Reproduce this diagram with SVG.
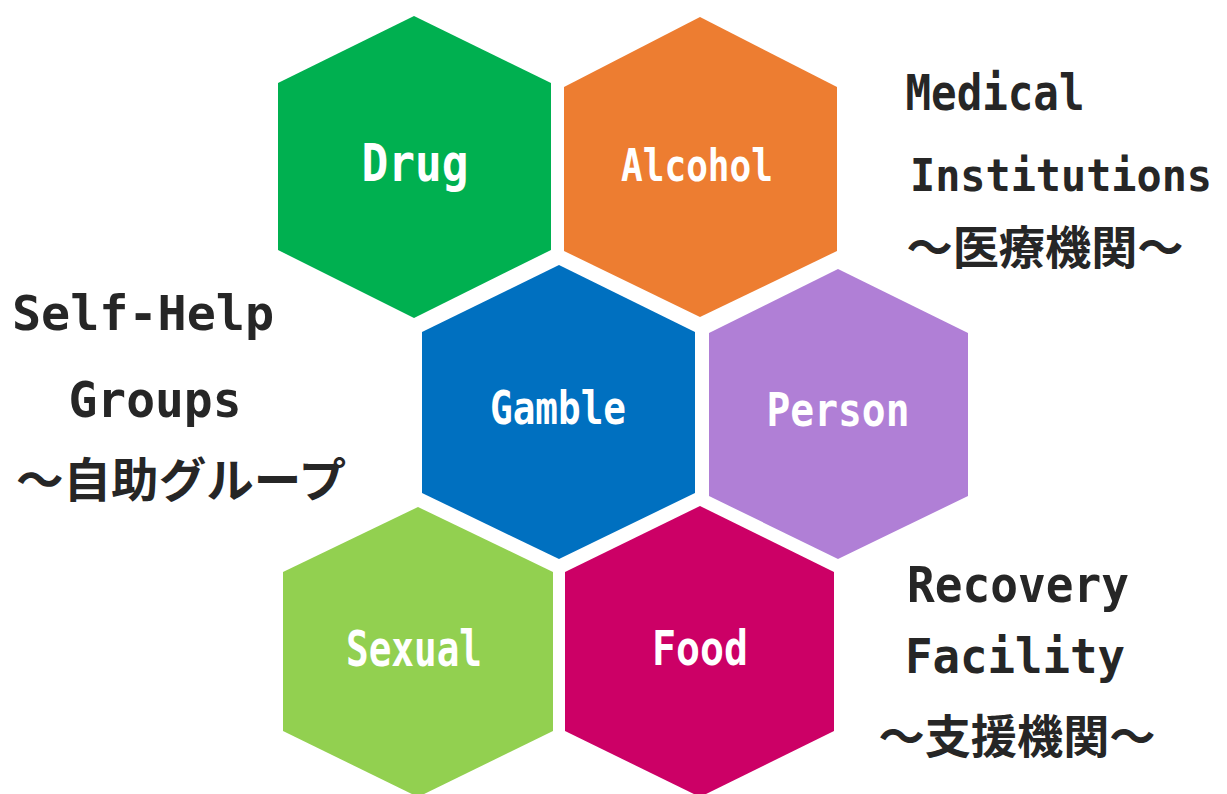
<svg xmlns="http://www.w3.org/2000/svg" width="1227" height="794" viewBox="0 0 1227 794">
<style>
.lbl{font-family:"DejaVu Sans Mono","Liberation Mono",monospace;font-weight:bold;fill:#ffffff;text-anchor:middle}
.side{font-family:"DejaVu Sans Mono","Liberation Mono",monospace;font-weight:bold;fill:#262626;text-anchor:middle}
.jp{font-family:"Noto Sans CJK JP","Noto Sans",sans-serif;font-weight:bold;fill:#262626;text-anchor:middle}
</style>
<rect width="1227" height="794" fill="#ffffff"/>
<g id="drug">
<polygon points="414,16 551,83 551,250 414,318 278,250 278,83" fill="#00B050"/>
<text class="lbl" x="415" y="181" font-size="51" textLength="107" lengthAdjust="spacingAndGlyphs">Drug</text>
</g>
<g id="alcohol">
<polygon points="700,17 837,87 837,251 700,317 564,251 564,87" fill="#ED7D31"/>
<text class="lbl" x="697" y="181" font-size="45" textLength="152" lengthAdjust="spacingAndGlyphs">Alcohol</text>
</g>
<g id="gamble">
<polygon points="559,265 695,332 695,493 559,559 422,493 422,332" fill="#0070C0"/>
<text class="lbl" x="558" y="424" font-size="47" textLength="136" lengthAdjust="spacingAndGlyphs">Gamble</text>
</g>
<g id="person">
<polygon points="838,269 968,333 968,496 838,559 709,496 709,333" fill="#B07FD6"/>
<text class="lbl" x="838" y="426" font-size="47" textLength="143" lengthAdjust="spacingAndGlyphs">Person</text>
</g>
<g id="sexual">
<polygon points="418,507 553,572 553,731 418,797 283,731 283,572" fill="#92D050"/>
<text class="lbl" x="414" y="666" font-size="49" textLength="136" lengthAdjust="spacingAndGlyphs">Sexual</text>
</g>
<g id="food">
<polygon points="700,506 834,572 834,731 700,797 565,731 565,572" fill="#CC0066"/>
<text class="lbl" x="700" y="665" font-size="48" textLength="96" lengthAdjust="spacingAndGlyphs">Food</text>
</g>
<g id="self-help">
<text class="side" x="143" y="330" font-size="48" textLength="262" lengthAdjust="spacingAndGlyphs">Self-Help</text>
<text class="side" x="155" y="417" font-size="50" textLength="173" lengthAdjust="spacingAndGlyphs">Groups</text>
<text class="jp" x="181" y="497" font-size="47" textLength="330" lengthAdjust="spacingAndGlyphs">～自助グループ</text>
</g>
<g id="medical">
<text class="side" x="995" y="110" font-size="50" textLength="179" lengthAdjust="spacingAndGlyphs">Medical</text>
<text class="side" x="1061" y="191" font-size="44" textLength="302" lengthAdjust="spacingAndGlyphs">Institutions</text>
<text class="jp" x="1045" y="264" font-size="46" textLength="277" lengthAdjust="spacingAndGlyphs">～医療機関～</text>
</g>
<g id="recovery">
<text class="side" x="1018" y="602" font-size="50" textLength="222" lengthAdjust="spacingAndGlyphs">Recovery</text>
<text class="side" x="1015" y="673" font-size="48" textLength="220" lengthAdjust="spacingAndGlyphs">Facility</text>
<text class="jp" x="1017" y="753" font-size="46" textLength="277" lengthAdjust="spacingAndGlyphs">～支援機関～</text>
</g>
<g id="connectors"></g>
</svg>
